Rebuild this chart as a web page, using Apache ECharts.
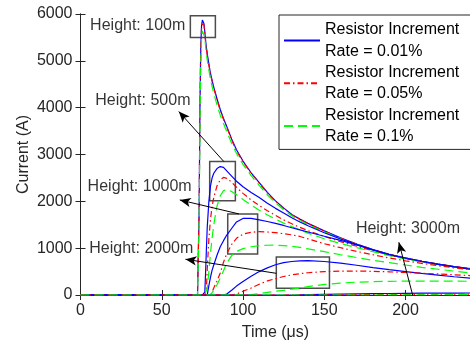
<!DOCTYPE html>
<html><head><meta charset="utf-8">
<script src="https://cdn.jsdelivr.net/npm/echarts@6/dist/echarts.min.js"></script>
<style>html,body{margin:0;padding:0;background:#fff}#c{width:470px;height:343px}</style>
</head><body><div id="c"></div>
<script>
// time axis (µs)
const time = [0,72,72.5,73,73.5,74,74.5,75,75.5,76,76.5,77,77.5,78,79,80,81,82,84,86,88,90,93,96,100,105,110,115,120,125,130,135,140,150,160,170,180,190,200,210,220,230,240];
// Height 100 m
const h100_r001 = [0,0,0,1800,4000,5300,5750,5870,5890,5790,5620,5420,5280,5150,4930,4730,4580,4440,4190,3960,3770,3600,3330,3100,2860,2610,2400,2190,2010,1860,1720,1620,1530,1370,1220,1090,970,870,790,720,660,605,560];
const h100_r005 = [0,0,0,1750,3950,5250,5700,5830,5850,5760,5600,5400,5260,5130,4910,4710,4560,4420,4170,3940,3750,3580,3310,3080,2840,2600,2390,2180,2000,1850,1715,1615,1525,1365,1215,1085,968,870,792,722,663,608,565];
const h100_r01  = [0,0,0,1500,3600,4900,5450,5640,5680,5660,5500,5300,5150,5020,4800,4600,4450,4310,4060,3840,3660,3490,3240,3020,2790,2550,2340,2140,1970,1820,1690,1590,1500,1345,1200,1075,960,862,785,716,658,602,558];
// Height 500 m
const h500_r001 = [0,0,0,0,0,0,0,0,0,0,60,500,1000,1450,2000,2330,2500,2600,2700,2742,2725,2650,2540,2430,2310,2190,2080,1960,1850,1750,1650,1560,1480,1330,1195,1075,965,865,787,718,658,603,558];
const h500_r005 = [0,0,0,0,0,0,0,0,0,0,0,0,150,550,1200,1620,1900,2080,2330,2460,2510,2490,2410,2300,2170,2030,1910,1800,1700,1605,1520,1445,1375,1250,1140,1040,945,855,780,712,653,600,556];
const h500_r01  = [0,0,0,0,0,0,0,0,0,0,0,0,0,150,500,900,1220,1500,1900,2120,2230,2255,2210,2140,2040,1920,1810,1710,1620,1535,1460,1390,1320,1200,1100,1010,925,840,770,705,645,594,550];
// Height 1000 m
const h1000_r001 = [0,0,0,0,0,0,0,0,0,0,0,0,0,0,200,380,530,640,850,1030,1160,1280,1420,1560,1635,1638,1605,1570,1530,1485,1435,1390,1345,1255,1165,1070,960,862,785,715,655,600,553];
const h1000_r005 = [0,0,0,0,0,0,0,0,0,0,0,0,0,0,0,0,60,150,300,470,700,880,1080,1210,1300,1340,1353,1345,1330,1310,1285,1250,1200,1095,1010,930,860,790,730,675,625,580,540];
const h1000_r01  = [0,0,0,0,0,0,0,0,0,0,0,0,0,0,0,0,30,100,220,360,520,680,840,930,990,1030,1054,1062,1065,1055,1040,1015,985,925,860,800,740,690,640,590,550,510,470];
// Height 2000 m
const h2000_r001 = [0,0,0,0,0,0,0,0,0,0,0,0,0,0,0,0,0,0,0,0,0,20,100,190,290,400,500,580,645,690,715,728,732,715,680,635,585,540,500,460,425,390,360];
const h2000_r005 = [0,0,0,0,0,0,0,0,0,0,0,0,0,0,0,0,0,0,0,0,0,0,0,20,80,150,230,300,350,395,430,455,475,500,510,512,505,495,480,465,450,432,415];
const h2000_r01  = [0,0,0,0,0,0,0,0,0,0,0,0,0,0,0,0,0,0,0,0,0,0,0,0,0,10,30,55,80,100,125,150,180,225,255,275,285,292,296,298,298,296,293];
// Height 3000 m
const h3000_r001 = [0,0,0,0,0,0,0,0,0,0,0,0,0,0,0,0,0,0,0,0,0,0,0,0,0,0,0,0,0,0,0,3,6,12,18,24,28,32,35,38,40,42,43];
const h3000_r005 = [0,0,0,0,0,0,0,0,0,0,0,0,0,0,0,0,0,0,0,0,0,0,0,0,0,0,0,0,0,0,0,0,0,0,3,6,9,12,14,16,18,19,20];
const h3000_r01  = [0,0,0,0,0,0,0,0,0,0,0,0,0,0,0,0,0,0,0,0,0,0,0,0,0,0,0,0,0,0,0,0,0,0,0,0,0,1,2,3,5,6,8];

const legendNames = ['Resistor Increment\nRate = 0.01%','Resistor Increment\nRate = 0.05%','Resistor Increment\nRate = 0.1%'];
const xTicks = [0,50,100,150,200];
const yTicks = [0,1000,2000,3000,4000,5000,6000];
// annotation boxes [t1, I1, t2, I2]
const boxes = [[67.6,5500,83,5960],[79.5,2010,95.3,2850],[90.6,876,109,1731],[120.5,143,153.2,810]];
// arrows [tStart, IStart, tTip, ITip]
const arrows = [[88.2,2850,60.5,3917],[97.5,1731,61.1,2030],[120.5,463,64.6,763],[204.4,0,195.9,1126]];
// labels [t, I, text]
const notes = [[35.2,5749,'Height: 100m'],[38.4,4146,'Height: 500m'],[36.4,2315,'Height: 1000m'],[37.4,983,'Height: 2000m'],[201.5,1410,'Height: 3000m']];

const groups = [
  [h100_r001,h100_r005,h100_r01],
  [h500_r001,h500_r005,h500_r01],
  [h1000_r001,h1000_r005,h1000_r01],
  [h2000_r001,h2000_r005,h2000_r01],
  [h3000_r001,h3000_r005,h3000_r01]
];
const styles = [
  {color:'#0000ff', type:'solid'},
  {color:'#ff0000', type:[6,3,1.5,3]},
  {color:'#00ff00', type:[9,5]}
];
const FONT = 'Liberation Sans, Arial, sans-serif';
const series = [];
groups.forEach(g => {
  g.forEach((vals, k) => {
    series.push({
      type:'line', name: legendNames[k], symbol:'none', showSymbol:false,
      data: time.map((t,i)=>[t, vals[i]]),
      lineStyle:{color:styles[k].color, type:styles[k].type, width:1.2},
      itemStyle:{color:styles[k].color},
      silent:true, animation:false
    });
  });
});
series.push({
  type:'scatter', name:'notes', symbol:'rect', symbolSize:1,
  itemStyle:{color:'rgba(0,0,0,0)'},
  data: notes.map(n=>({value:[n[0],n[1]], name:n[2]})),
  label:{show:true, position:'inside', formatter:p=>p.name, color:'#000', fontSize:16, fontFamily:FONT},
  silent:true, animation:false, z:10,
  markLine:{
    silent:true, animation:false, symbol:['none','arrow'], symbolSize:[7,11],
    label:{show:false},
    lineStyle:{color:'#000', width:1, type:'solid'},
    data: arrows.map(a=>[{coord:[a[0],a[1]]},{coord:[a[2],a[3]]}])
  },
  markArea:{
    silent:true, animation:false,
    label:{show:false},
    itemStyle:{color:'rgba(0,0,0,0)', borderColor:'#4d4d4d', borderWidth:1.5},
    data: boxes.map(b=>[{coord:[b[0],b[1]]},{coord:[b[2],b[3]]}])
  }
});

const axisCommon = {
  axisLine:{show:true, lineStyle:{color:'#262626', width:1}},
  splitLine:{show:false}
};
const chart = echarts.init(document.getElementById('c'), null, {renderer:'canvas'});
chart.setOption({
  animation:false,
  backgroundColor:'#fff',
  textStyle:{fontFamily:FONT},
  grid:{left:80.5, top:14, width:390, height:281, containLabel:false, outerBoundsMode:'none'},
  legend:{
    data: legendNames.map(n=>({name:n, itemStyle:{color:'rgba(0,0,0,0)', borderWidth:0, opacity:0}})),
    left:279, top:15, orient:'vertical',
    padding:[4,12,2,4], itemGap:0, itemWidth:36, itemHeight:12,
    backgroundColor:'#fff', borderColor:'#262626', borderWidth:1,
    textStyle:{fontSize:16, lineHeight:21.4, color:'#000', fontFamily:FONT},
    selectedMode:false
  },
  xAxis:[
    Object.assign({type:'value', min:0, max:240, position:'bottom',
      name:'Time (μs)', nameLocation:'middle', nameGap:30, nameMoveOverlap:false,
      nameTextStyle:{fontSize:16, color:'#262626', fontFamily:FONT},
      axisTick:{show:true, inside:true, length:5, customValues:xTicks, lineStyle:{color:'#262626'}},
      axisLabel:{show:true, customValues:xTicks, fontSize:16, color:'#262626', margin:8, fontFamily:FONT}
    }, axisCommon),
    Object.assign({type:'value', min:0, max:240, position:'top',
      axisTick:{show:true, inside:true, length:5, customValues:xTicks, lineStyle:{color:'#262626'}},
      axisLabel:{show:false}
    }, axisCommon)
  ],
  yAxis:[
    Object.assign({type:'value', min:0, max:6000, interval:1000, position:'left',
      name:'Current (A)', nameLocation:'middle', nameGap:49, nameMoveOverlap:false,
      nameTextStyle:{fontSize:16, color:'#262626', fontFamily:FONT},
      axisTick:{show:true, inside:true, length:5, lineStyle:{color:'#262626'}},
      axisLabel:{show:true, fontSize:16, color:'#262626', margin:8, fontFamily:FONT, formatter:v=>String(v)}
    }, axisCommon),
    Object.assign({type:'value', min:0, max:6000, interval:1000, position:'right',
      axisTick:{show:true, inside:true, length:5, lineStyle:{color:'#262626'}},
      axisLabel:{show:false}
    }, axisCommon)
  ],
  series: series
});
</script>
</body></html>
